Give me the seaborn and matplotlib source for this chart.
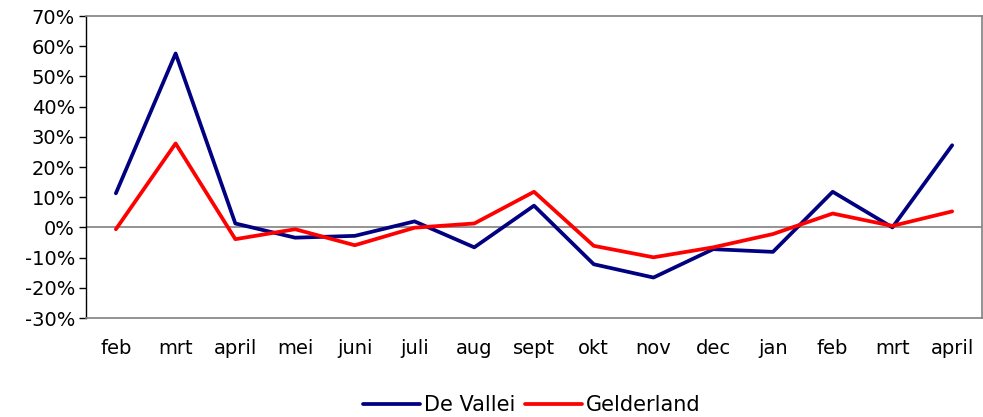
import matplotlib
matplotlib.use("Agg")
import matplotlib.pyplot as plt
import seaborn as sns
import pandas as pd

months = ['feb', 'mrt', 'april', 'mei', 'juni', 'juli', 'aug', 'sept',
          'okt', 'nov', 'dec', 'jan', 'feb', 'mrt', 'april']
de_vallei = [11.3, 57.6, 1.3, -3.4, -2.8, 2.0, -6.6, 7.2,
             -12.2, -16.6, -7.2, -8.1, 11.8, 0.0, 27.2]
gelderland = [-0.6, 27.8, -3.9, -0.6, -5.9, -0.1, 1.3, 11.8,
              -6.1, -9.9, -6.6, -2.2, 4.6, 0.5, 5.3]


def main():
    sns.set_style("white")
    plt.rcParams['font.family'] = ['DejaVu Sans']
    plt.rcParams['text.color'] = 'black'
    plt.rcParams['xtick.color'] = 'black'
    plt.rcParams['ytick.color'] = 'black'

    pos = list(range(len(months)))
    df = pd.DataFrame({
        'pos': pos * 2,
        'value': de_vallei + gelderland,
        'serie': ['De Vallei'] * len(months) + ['Gelderland'] * len(months),
    })

    fig = plt.figure(figsize=(9.83, 4.17), dpi=100)
    ax = fig.add_axes([0.0875, 0.2374, 0.9115, 0.7242])
    ax.axhline(0, color='#808080', lw=1.2, zorder=1)
    sns.lineplot(data=df, x='pos', y='value', hue='serie',
                 palette={'De Vallei': '#000080', 'Gelderland': '#FF0000'},
                 lw=2.7, ax=ax, legend=False, zorder=3)

    ax.set_xlim(-0.5, len(months) - 0.5)
    ax.set_ylim(-30, 70)
    ax.set_yticks(range(-30, 71, 10))
    ax.set_yticklabels([f'{v}%' for v in range(-30, 71, 10)], fontsize=14)
    ax.set_xticks(pos)
    ax.set_xticklabels(months, fontsize=14)
    ax.tick_params(axis='x', length=0, pad=15)
    ax.tick_params(axis='y', length=5, width=1, color='black',
                   direction='out', left=True, pad=3)
    ax.set_xlabel('')
    ax.set_ylabel('')
    for side in ['top', 'right', 'bottom']:
        ax.spines[side].set_color('#808080')
        ax.spines[side].set_linewidth(1.2)
    ax.spines['left'].set_color('black')
    ax.spines['left'].set_linewidth(1)

    h1, = ax.plot([], [], color='#000080', lw=2.7)
    h2, = ax.plot([], [], color='#FF0000', lw=2.7)
    fig.legend([h1, h2], ['De Vallei', 'Gelderland'], loc='lower center',
               bbox_to_anchor=(0.541, -0.04), ncol=2, frameon=False,
               fontsize=15, handlelength=2.75, handletextpad=0.2,
               columnspacing=0.45)

    fig.savefig('out.png', dpi=100)


if __name__ == "__main__":
    main()
